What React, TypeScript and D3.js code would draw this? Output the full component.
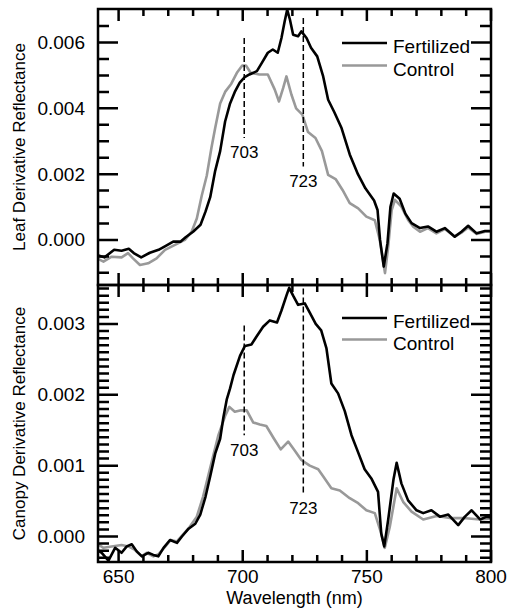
import React from 'react';
import * as d3 from 'd3';

const FONT = 'Liberation Sans, Arial, Helvetica, sans-serif';

// Leaf panel, Fertilized
const leafFertNm = [641.3, 644.3, 648.2, 651.2, 654.1, 656.1, 659.1, 662.6, 666.1, 669.0, 672.0, 675.0, 677.0, 680.0, 683.0, 685.0, 686.9, 688.9, 690.9, 692.9, 694.9, 696.8, 698.8, 700.8, 702.7, 705.7, 707.7, 710.1, 712.1, 714.1, 715.6, 716.9, 717.9, 719.0, 720.3, 722.3, 723.6, 725.7, 727.5, 730.0, 732.4, 734.4, 736.9, 739.8, 743.1, 746.4, 749.4, 752.9, 754.3, 755.3, 756.8, 758.3, 759.5, 760.8, 763.2, 765.5, 768.0, 771.4, 774.6, 778.0, 781.4, 785.4, 788.1, 790.8, 794.2, 797.6, 800];
const leafFert = [-0.00046, -0.00053, -0.0003, -0.00033, -0.00027, -0.0004, -0.00053, -0.00039, -0.0003, -0.00018, -0.00005, -0.00005, 0.00008, 0.00025, 0.00046, 0.00086, 0.0013, 0.0021, 0.0027, 0.0036, 0.00415, 0.0045, 0.00478, 0.00495, 0.00503, 0.00513, 0.00538, 0.00569, 0.00579, 0.00569, 0.00614, 0.00665, 0.007, 0.0067, 0.00624, 0.00619, 0.00634, 0.00614, 0.00584, 0.00558, 0.00497, 0.00426, 0.00388, 0.0034, 0.0026, 0.002, 0.00157, 0.0012, 0.00091, 0.0, -0.00081, -0.0001, 0.00101, 0.00141, 0.00125, 0.0008, 0.00051, 0.00036, 0.00041, 0.00025, 0.00036, 0.0001, 0.00025, 0.00043, 0.0002, 0.00027, 0.00027];

// Leaf panel, Control
const leafCtrlNm = [641.3, 643.9, 647.2, 651.2, 653.8, 655.8, 658.6, 661.9, 665.3, 668.7, 672.7, 676.7, 679.4, 681.5, 683.5, 685.5, 687.4, 688.9, 690.9, 692.9, 695.4, 697.8, 699.8, 701.3, 703.2, 706.7, 710.1, 712.9, 714.6, 716.3, 717.6, 719.6, 721.5, 724.0, 726.3, 729.3, 731.9, 734.4, 737.4, 740.2, 743.1, 746.5, 749.8, 753.2, 755.2, 757.3, 758.6, 760.0, 761.3, 763.9, 766.6, 768.7, 771.4, 774.6, 778.0, 781.4, 785.4, 788.1, 790.8, 794.2, 797.6, 800];
const leafCtrl = [-0.00056, -0.00066, -0.00051, -0.00053, -0.0004, -0.00056, -0.00076, -0.00071, -0.00056, -0.0003, -0.00015, 0.0, 0.00025, 0.00065, 0.00135, 0.00195, 0.0028, 0.0034, 0.00415, 0.0045, 0.00475, 0.0051, 0.0053, 0.0053, 0.00508, 0.00503, 0.00503, 0.00457, 0.00421, 0.00462, 0.00497, 0.00442, 0.004, 0.00381, 0.00328, 0.0031, 0.0027, 0.00198, 0.00185, 0.00152, 0.00112, 0.00096, 0.00071, 0.0006, 0.0, -0.00101, -0.0002, 0.00091, 0.00122, 0.00101, 0.00061, 0.0004, 0.00025, 0.00036, 0.0002, 0.00033, 0.0001, 0.00022, 0.00038, 0.00018, 0.00025, 0.00025];

// Canopy panel, Fertilized
const canFertNm = [641.3, 643.2, 645.9, 648.6, 651.2, 653.3, 655.3, 657.3, 659.4, 661.9, 664.0, 666.0, 668.1, 670.7, 673.5, 675.5, 678.2, 680.9, 682.9, 685.0, 686.9, 688.9, 690.9, 692.2, 693.6, 694.9, 696.3, 698.9, 700.9, 703.5, 705.5, 708.2, 710.9, 713.8, 715.6, 717.6, 718.7, 720.3, 722.3, 725.0, 727.0, 729.4, 731.6, 733.7, 735.7, 738.4, 741.1, 743.8, 745.9, 749.1, 751.8, 754.5, 755.8, 757.0, 758.6, 760.7, 762.0, 763.9, 766.6, 770.0, 772.7, 776.0, 779.4, 782.8, 786.8, 789.5, 792.2, 795.6, 798.3, 800];
const canFert = [-0.00019, -0.00023, -0.00034, -0.00016, -0.00023, -0.00014, -0.00011, -0.00021, -0.00028, -0.00023, -0.00026, -0.00028, -0.00016, -0.00005, -0.00009, 0.0, 0.00011, 0.00018, 0.00031, 0.00056, 0.00085, 0.00117, 0.00138, 0.00168, 0.00194, 0.00209, 0.00228, 0.00255, 0.00269, 0.00271, 0.00282, 0.00296, 0.00305, 0.00302, 0.00319, 0.0034, 0.00351, 0.0034, 0.00327, 0.00329, 0.00316, 0.003, 0.00291, 0.00266, 0.00216, 0.00202, 0.00177, 0.00143, 0.00124, 0.00095, 0.00082, 0.00063, 0.00004, -0.00014, 0.00024, 0.0008, 0.00104, 0.00075, 0.00051, 0.00037, 0.00033, 0.00037, 0.00028, 0.00031, 0.00016, 0.00028, 0.00037, 0.00024, 0.00028, 0.00027];

// Canopy panel, Control
const canCtrlNm = [641.3, 643.9, 647.2, 651.2, 653.9, 656.6, 659.3, 661.3, 664.0, 666.1, 668.6, 671.0, 673.5, 676.0, 678.5, 681.5, 684.0, 686.9, 690.2, 692.9, 694.6, 696.8, 698.9, 701.6, 704.2, 706.9, 709.5, 712.6, 715.3, 718.3, 721.0, 723.6, 727.0, 730.4, 733.0, 735.7, 739.1, 743.1, 746.5, 749.8, 753.2, 755.8, 757.2, 759.2, 762.0, 764.6, 768.0, 772.7, 778.1, 783.5, 788.8, 795.6, 800];
const canCtrl = [-0.0001, -0.00016, -0.00014, -0.00012, -0.00014, -0.00019, -0.00028, -0.00023, -0.00028, -0.00025, -0.00015, -0.00005, -0.00007, 0.00003, 0.00013, 0.00028, 0.00056, 0.00097, 0.00143, 0.0017, 0.00183, 0.00176, 0.00178, 0.00178, 0.00161, 0.00158, 0.00156, 0.00138, 0.00123, 0.00134, 0.00121, 0.00108, 0.001, 0.00095, 0.00082, 0.00068, 0.00065, 0.00054, 0.00047, 0.00037, 0.00033, 0.00004, -0.00016, 0.00013, 0.00068, 0.00049, 0.00035, 0.00024, 0.00029, 0.00026, 0.00026, 0.00024, 0.00025];

const seriesNames = ['Fertilized', 'Control'];
const seriesColors = ['#000000', '#999999'];

// dashed markers
const markerNm = [700.6, 724.4];
const markerText = ['703', '723'];
const leafMarkTop = [0.00614, 0.00675];
const leafMarkBottom = [0.0031, 0.00223];
const canMarkTop = [0.00298, 0.0035];
const canMarkBottom = [0.00143, 0.00061];

const leafTicks = [0, 0.002, 0.004, 0.006];
const canTicks = [0, 0.001, 0.002, 0.003];
const xTicks = [650, 700, 750, 800];

const LEFT = 98;
const RIGHT = 491;

const x = d3.scaleLinear().domain([641.7, 800]).range([LEFT, RIGHT]);
const xMinor = d3.range(650, 801, 10);
const fmtY = d3.format('.3f');

const panels = [
  {
    top: 9, bottom: 285, domain: [-0.00137, 0.00702],
    major: leafTicks, minor: d3.range(-0.001, 0.0071, 0.0005),
    series: [d3.zip(leafFertNm, leafFert), d3.zip(leafCtrlNm, leafCtrl)],
    markTop: leafMarkTop, markBottom: leafMarkBottom,
    label: 'Leaf Derivative Reflectance', legendY: [43, 65.5], showX: false,
  },
  {
    top: 285, bottom: 562, domain: [-0.00036, 0.00355],
    major: canTicks, minor: d3.range(-0.0003, 0.00351, 0.0001),
    series: [d3.zip(canFertNm, canFert), d3.zip(canCtrlNm, canCtrl)],
    markTop: canMarkTop, markBottom: canMarkBottom,
    label: 'Canopy Derivative Reflectance', legendY: [318, 339.5], showX: true,
  },
];

const Panel = ({ p, idx }) => {
  const y = d3.scaleLinear().domain(p.domain).range([p.bottom, p.top]);
  const line = d3.line<[number, number]>().x(d => x(d[0])).y(d => y(d[1]));
  const clipId = `clip-${idx}`;
  const minor = p.minor.filter(v => y(v) > p.top + 1 && y(v) < p.bottom - 1);

  // inward ticks on all four sides, one path
  const tp = d3.path();
  minor.forEach(v => {
    tp.moveTo(LEFT, y(v)); tp.lineTo(LEFT + 11, y(v));
    tp.moveTo(RIGHT, y(v)); tp.lineTo(RIGHT - 11, y(v));
  });
  p.major.forEach(v => {
    tp.moveTo(LEFT, y(v)); tp.lineTo(LEFT + 20, y(v));
    tp.moveTo(RIGHT, y(v)); tp.lineTo(RIGHT - 20, y(v));
  });
  xMinor.forEach(v => {
    const len = xTicks.includes(v) ? 12 : 7;
    tp.moveTo(x(v), p.top); tp.lineTo(x(v), p.top + len);
    tp.moveTo(x(v), p.bottom); tp.lineTo(x(v), p.bottom - len);
  });

  return (
    <g>
      <defs>
        <clipPath id={clipId}>
          <rect x={LEFT} y={p.top} width={RIGHT - LEFT} height={p.bottom - p.top} />
        </clipPath>
      </defs>

      {/* spectra, control drawn first */}
      {[1, 0].map(si => (
        <path key={`s${si}`} d={line(p.series[si]) || ''} clipPath={`url(#${clipId})`}
          fill="none" stroke={seriesColors[si]} strokeWidth={2.6} strokeLinejoin="round" />
      ))}

      <path d={tp.toString()} fill="none" stroke="#000" strokeWidth={2.5} strokeLinecap="butt" />

      {p.major.map(v => (
        <text key={`yl${v}`} x={LEFT - 13} y={y(v)} dy="0.34em" textAnchor="end"
          fontFamily={FONT} fontSize={19}>{fmtY(v)}</text>
      ))}
      {p.showX && xTicks.map(v => (
        <text key={`xl${v}`} x={x(v)} y={p.bottom + 21} textAnchor="middle"
          fontFamily={FONT} fontSize={19}>{v}</text>
      ))}

      {/* dashed markers */}
      {markerNm.map((nm, i) => (
        <g key={`m${i}`}>
          <line x1={x(nm)} x2={x(nm)} y1={y(p.markTop[i])} y2={y(p.markBottom[i])}
            stroke="#000" strokeWidth={1.5} strokeDasharray="6,3" />
          <text x={x(nm)} y={y(p.markBottom[i]) + 20.5} textAnchor="middle"
            fontFamily={FONT} fontSize={17}>{markerText[i]}</text>
        </g>
      ))}

      {/* legend */}
      {seriesNames.map((name, si) => (
        <g key={name}>
          <line x1={342} x2={387} y1={p.legendY[si]} y2={p.legendY[si]}
            stroke={seriesColors[si]} strokeWidth={2.6} />
          <text x={393} y={p.legendY[si] + 10} fontFamily={FONT} fontSize={19}>{name}</text>
        </g>
      ))}

      <rect x={LEFT} y={p.top} width={RIGHT - LEFT} height={p.bottom - p.top}
        fill="none" stroke="#000" strokeWidth={2.5} />

      <text transform={`translate(25,${(p.top + p.bottom) / 2}) rotate(-90)`}
        textAnchor="middle" fontFamily={FONT} fontSize={17}>{p.label}</text>
    </g>
  );
};

const App = () => (
  <svg width={509} height={615}
    style={{ position: 'absolute', left: 0, top: 0, background: '#fff' }}>
    {panels.map((p, i) => <Panel key={i} p={p} idx={i} />)}
    <text x={(LEFT + RIGHT) / 2} y={604} textAnchor="middle"
      fontFamily={FONT} fontSize={18}>Wavelength (nm)</text>
  </svg>
);

export default App;
